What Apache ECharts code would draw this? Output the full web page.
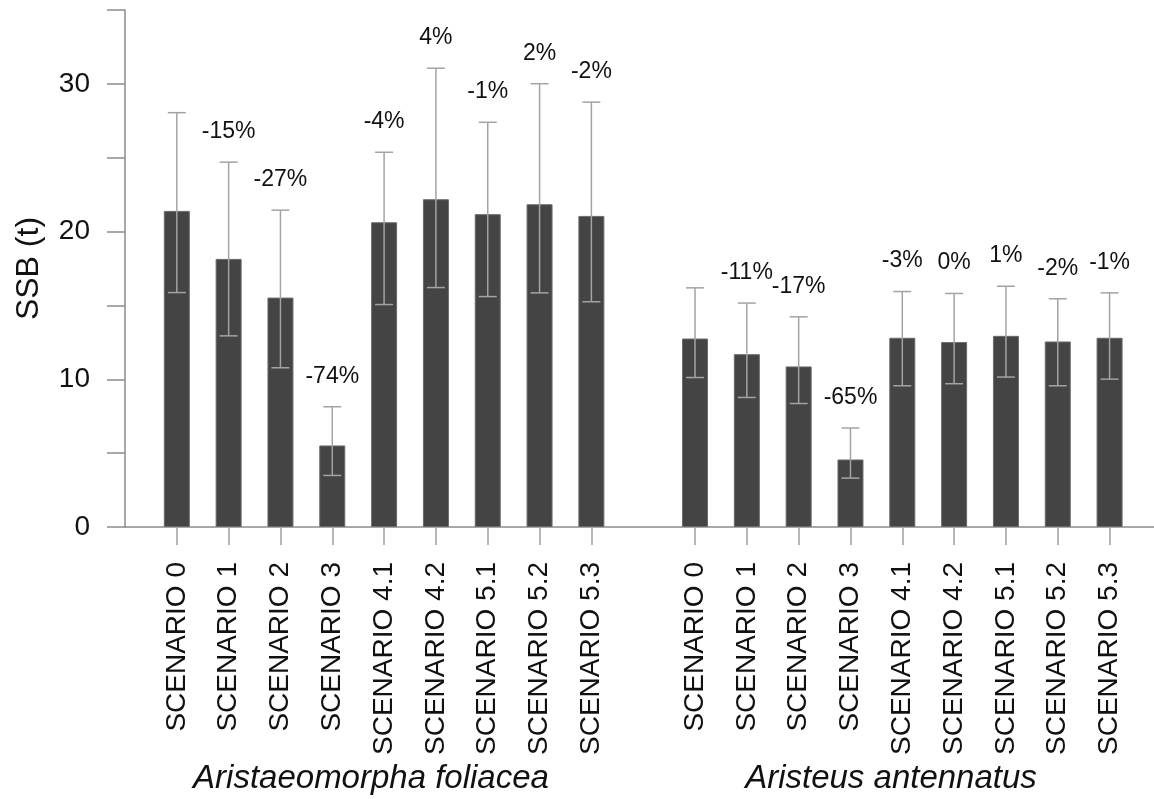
<!DOCTYPE html>
<html>
<head>
<meta charset="utf-8">
<script src="https://cdn.jsdelivr.net/npm/echarts@6/dist/echarts.min.js"></script>
<style>
html,body{margin:0;padding:0;background:#fff;}
#chart{width:1154px;height:799px;}
</style>
</head>
<body>
<div id="chart"></div>
<script>
// ---- data ----
const speciesNames = ['Aristaeomorpha foliacea', 'Aristeus antennatus'];
const scenarios = ['SCENARIO 0', 'SCENARIO 1', 'SCENARIO 2', 'SCENARIO 3', 'SCENARIO 4.1', 'SCENARIO 4.2', 'SCENARIO 5.1', 'SCENARIO 5.2', 'SCENARIO 5.3'];
const ssbA   = [21.40, 18.15, 15.53, 5.52, 20.63, 22.19, 21.18, 21.85, 21.06];
const upperA = [28.05, 24.70, 21.45, 8.14, 25.37, 31.06, 27.40, 30.01, 28.76];
const lowerA = [15.87, 12.94, 10.78, 3.49, 15.06, 16.21, 15.60, 15.85, 15.25];
const changeA = ['', '-15%', '-27%', '-74%', '-4%', '4%', '-1%', '2%', '-2%'];
const ssbB   = [12.76, 11.70, 10.87, 4.57, 12.81, 12.52, 12.94, 12.56, 12.81];
const upperB = [16.19, 15.16, 14.23, 6.70, 15.94, 15.81, 16.30, 15.45, 15.85];
const lowerB = [10.12, 8.77, 8.36, 3.31, 9.56, 9.70, 10.15, 9.56, 10.01];
const changeB = ['', '-11%', '-17%', '-65%', '-3%', '0%', '1%', '-2%', '-1%'];
const yTickLabels = [0, 10, 20, 30];
const yName = 'SSB (t)';

// ---- build category axis: blank slot, group A, blank slot, group B, blank slot ----
const categories = [''].concat(scenarios, [' '], scenarios, ['  ']);
const barData = [null].concat(ssbA, [null], ssbB, [null]);
const labels = [''].concat(changeA, [''], changeB, ['']);
const errData = [];
scenarios.forEach((s, i) => errData.push([1 + i, lowerA[i], upperA[i]]));
scenarios.forEach((s, i) => errData.push([11 + i, lowerB[i], upperB[i]]));

const FONT = "'Liberation Sans', Arial, sans-serif";
const chart = echarts.init(document.getElementById('chart'), null, {renderer: 'canvas'});

const option = {
  animation: false,
  backgroundColor: '#fff',
  grid: {left: 125, width: 1036.4, top: 10, height: 517, containLabel: false, outerBoundsMode: 'none'},
  xAxis: {
    type: 'category',
    data: categories,
    boundaryGap: false,
    axisLine: {lineStyle: {color: '#8c8c8c', width: 1.5}},
    axisTick: {
      show: true,
      length: 18,
      inside: false,
      interval: (idx, val) => String(val).trim() !== '',
      lineStyle: {color: '#a0a0a0', width: 1.5}
    },
    axisLabel: {
      interval: 0,
      rotate: 90,
      margin: 35,
      fontSize: 28,
      fontFamily: FONT,
      color: '#111'
    },
    splitLine: {show: false}
  },
  yAxis: {
    type: 'value',
    min: 0,
    max: 35,
    interval: 5,
    name: yName,
    nameLocation: 'middle',
    nameGap: 80,
    nameTextStyle: {fontSize: 32, fontFamily: FONT, color: '#111'},
    axisLine: {show: true, lineStyle: {color: '#8c8c8c', width: 1.5}},
    axisTick: {show: true, length: 18, lineStyle: {color: '#8c8c8c', width: 1.5}},
    axisLabel: {
      margin: 35,
      fontSize: 28,
      fontFamily: FONT,
      color: '#111',
      formatter: v => (yTickLabels.indexOf(v) >= 0 ? String(v) : '')
    },
    splitLine: {show: false}
  },
  series: [
    {
      type: 'bar',
      data: barData,
      barWidth: 26,
      itemStyle: {color: '#444444', borderColor: '#6a6a6a', borderWidth: 1},
      z: 2
    },
    {
      type: 'custom',
      data: errData,
      encode: {x: 0, y: [1, 2]},
      z: 3,
      renderItem: function (params, api) {
        const x = api.value(0);
        const lo = api.coord([x, api.value(1)]);
        const hi = api.coord([x, api.value(2)]);
        const half = 9;
        const style = {stroke: '#a3a3a3', lineWidth: 1.5};
        const txt = labels[x];
        return {
          type: 'group',
          children: [
            {type: 'line', shape: {x1: hi[0], y1: hi[1], x2: lo[0], y2: lo[1]}, style: style},
            {type: 'line', shape: {x1: hi[0] - half, y1: hi[1], x2: hi[0] + half, y2: hi[1]}, style: style},
            {type: 'line', shape: {x1: lo[0] - half, y1: lo[1], x2: lo[0] + half, y2: lo[1]}, style: style},
            {type: 'text', style: {
              text: txt, x: hi[0], y: hi[1] - 19,
              textAlign: 'center', textVerticalAlign: 'bottom',
              fontSize: 23, fontFamily: FONT, fill: '#111'
            }}
          ]
        };
      }
    }
  ],
  graphic: [
    {type: 'text', x: 371, y: 779, style: {text: speciesNames[0], fontSize: 33, fontStyle: 'italic', fontFamily: FONT, fill: '#111', textAlign: 'center', textVerticalAlign: 'middle'}},
    {type: 'text', x: 891, y: 779, style: {text: speciesNames[1], fontSize: 33, fontStyle: 'italic', fontFamily: FONT, fill: '#111', textAlign: 'center', textVerticalAlign: 'middle'}}
  ]
};
chart.setOption(option);
</script>
</body>
</html>
